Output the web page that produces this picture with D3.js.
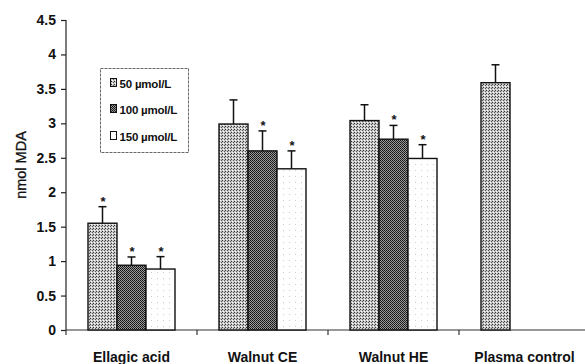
<!DOCTYPE html>
<html><head><meta charset="utf-8">
<script src="https://cdn.jsdelivr.net/npm/d3@7"></script>
<style>html,body{margin:0;padding:0;background:#fff;}svg{display:block;}</style>
</head><body>
<script>
const categories = ["Ellagic acid", "Walnut CE", "Walnut HE", "Plasma control"];
const seriesNames = ["50 \u00b5mol/L", "100 \u00b5mol/L", "150 \u00b5mol/L"];
const values50  = [1.55, 2.99, 3.04, 3.59];
const values100 = [0.94, 2.60, 2.77, null];
const values150 = [0.885, 2.34, 2.49, null];
const err50  = [0.24, 0.35, 0.23, 0.26];
const err100 = [0.12, 0.29, 0.20, null];
const err150 = [0.18, 0.26, 0.20, null];
const sig50  = [true, false, false, false];
const sig100 = [true, true, true, false];
const sig150 = [true, true, true, false];
const yTicks = [0, 0.5, 1, 1.5, 2, 2.5, 3, 3.5, 4, 4.5];

const W = 585, H = 364;
const svg = d3.select("body").append("svg").attr("width", W).attr("height", H);
const defs = svg.append("defs");

// patterns
const p1 = defs.append("pattern").attr("id","pat0").attr("patternUnits","userSpaceOnUse").attr("width",3).attr("height",3);
p1.append("rect").attr("width",3).attr("height",3).attr("fill","#c8c8c8");
p1.append("rect").attr("x",0).attr("y",0).attr("width",1).attr("height",1).attr("fill","#333");
p1.append("rect").attr("x",2).attr("y",1).attr("width",1).attr("height",1).attr("fill","#555");
p1.append("rect").attr("x",1).attr("y",2).attr("width",1).attr("height",1).attr("fill","#fff");
const p2 = defs.append("pattern").attr("id","pat1").attr("patternUnits","userSpaceOnUse").attr("width",2).attr("height",2);
p2.append("rect").attr("width",2).attr("height",2).attr("fill","#9a9a9a");
p2.append("rect").attr("x",0).attr("y",0).attr("width",1).attr("height",1).attr("fill","#111");
p2.append("rect").attr("x",1).attr("y",1).attr("width",1).attr("height",1).attr("fill","#222");
const p3 = defs.append("pattern").attr("id","pat2").attr("patternUnits","userSpaceOnUse").attr("width",6).attr("height",6);
p3.append("rect").attr("width",6).attr("height",6).attr("fill","#fff");
p3.append("rect").attr("x",1).attr("y",2).attr("width",1).attr("height",1).attr("fill","#ccc");

const x0 = 66, plotBottom = 330, plotTop = 20;
const x = d3.scaleBand().domain(categories).range([x0, x0 + 4*131]).padding(0);
const xs = d3.scaleBand().domain(d3.range(3)).range([22, 109]).padding(0);
const y = d3.scaleLinear().domain([0, 4.5]).range([plotBottom, plotTop]);

const font = "'Liberation Sans', Arial, Helvetica, sans-serif";

// y axis
const yAxis = svg.append("g").attr("transform", `translate(${x0},0)`)
  .call(d3.axisLeft(y).tickValues(yTicks).tickSize(5).tickPadding(5).tickFormat(d => String(d)));
yAxis.select(".domain").attr("stroke","#222").attr("stroke-width",1.2).attr("d", `M-0,${plotTop}V${plotBottom}`);
yAxis.selectAll(".tick line").attr("stroke","#222").attr("stroke-width",1.2);
yAxis.selectAll(".tick text").attr("font-family", font).attr("font-size", 14).attr("font-weight","bold").attr("fill","#111");

// x axis
const xAxisG = svg.append("g").attr("transform", `translate(0,${plotBottom})`);
xAxisG.append("line").attr("x1", x0).attr("x2", W).attr("y1",0).attr("y2",0).attr("stroke","#333").attr("stroke-width",1.2);
const bounds = categories.map(c => x(c)).slice(1);
xAxisG.selectAll(".xt").data([x0].concat(bounds)).join("line")
  .attr("x1", d => d).attr("x2", d => d).attr("y1", 0).attr("y2", 5).attr("stroke","#333").attr("stroke-width",1.2);
xAxisG.selectAll(".xl").data(categories).join("text")
  .attr("x", d => x(d) + x.bandwidth()/2).attr("y", 32)
  .attr("text-anchor","middle").attr("font-family", font).attr("font-size", 14).attr("font-weight","bold")
  .attr("fill","#111").text(d => d);

// y label
svg.append("text").attr("transform", "translate(26,165) rotate(-90)")
  .attr("text-anchor","middle").attr("font-family", font).attr("font-size", 14.5).attr("fill","#111")
  .attr("stroke","#111").attr("stroke-width",0.3).text("nmol MDA");

// bars
const series = [
  {vals: values50, errs: err50, sig: sig50},
  {vals: values100, errs: err100, sig: sig100},
  {vals: values150, errs: err150, sig: sig150}
];
series.forEach((s, i) => {
  const data = categories.map((c, j) => ({c, v: s.vals[j], e: s.errs[j], sig: s.sig[j]})).filter(d => d.v != null);
  const g = svg.append("g");
  g.selectAll(".eb").data(data).join("line")
    .attr("x1", d => x(d.c) + xs(i) + xs.bandwidth()/2).attr("x2", d => x(d.c) + xs(i) + xs.bandwidth()/2)
    .attr("y1", d => y(d.v)).attr("y2", d => y(d.v + d.e)).attr("stroke","#111").attr("stroke-width",1.5);
  g.selectAll(".cap").data(data).join("line")
    .attr("x1", d => x(d.c) + xs(i) + xs.bandwidth()/2 - 4).attr("x2", d => x(d.c) + xs(i) + xs.bandwidth()/2 + 4)
    .attr("y1", d => y(d.v + d.e)).attr("y2", d => y(d.v + d.e)).attr("stroke","#111").attr("stroke-width",1.5);
  g.selectAll(".bar").data(data).join("rect")
    .attr("x", d => x(d.c) + xs(i)).attr("width", xs.bandwidth())
    .attr("y", d => y(d.v)).attr("height", d => y(0) - y(d.v))
    .attr("fill", `url(#pat${i})`).attr("stroke","#111").attr("stroke-width",1.4);
  g.selectAll(".ast").data(data.filter(d => d.sig)).join("text")
    .attr("x", d => x(d.c) + xs(i) + xs.bandwidth()/2 + 0.5).attr("y", d => y(d.v + d.e) - 1)
    .attr("text-anchor","middle").attr("font-family", font).attr("font-size", 13).attr("font-weight","bold")
    .attr("fill","#111").text("*");
});

// legend
const lg = svg.append("g");
lg.append("rect").attr("x", 100.5).attr("y", 68.5).attr("width", 88).attr("height", 84)
  .attr("fill","#fff").attr("stroke","#666").attr("stroke-width",1).attr("stroke-dasharray","3,1");
const legY = [83, 109, 136];
seriesNames.forEach((n, i) => {
  lg.append("rect").attr("x", 110.5).attr("y", legY[i] - 4.5).attr("width", 6).attr("height", 8)
    .attr("fill", `url(#pat${i})`).attr("stroke","#111").attr("stroke-width",1);
  lg.append("text").attr("x", 119.5).attr("y", legY[i] + 4.5)
    .attr("font-family", font).attr("font-size", 11.5).attr("font-weight","bold").attr("letter-spacing",-0.2)
    .attr("fill","#111").text(n);
});
</script>
</body></html>
